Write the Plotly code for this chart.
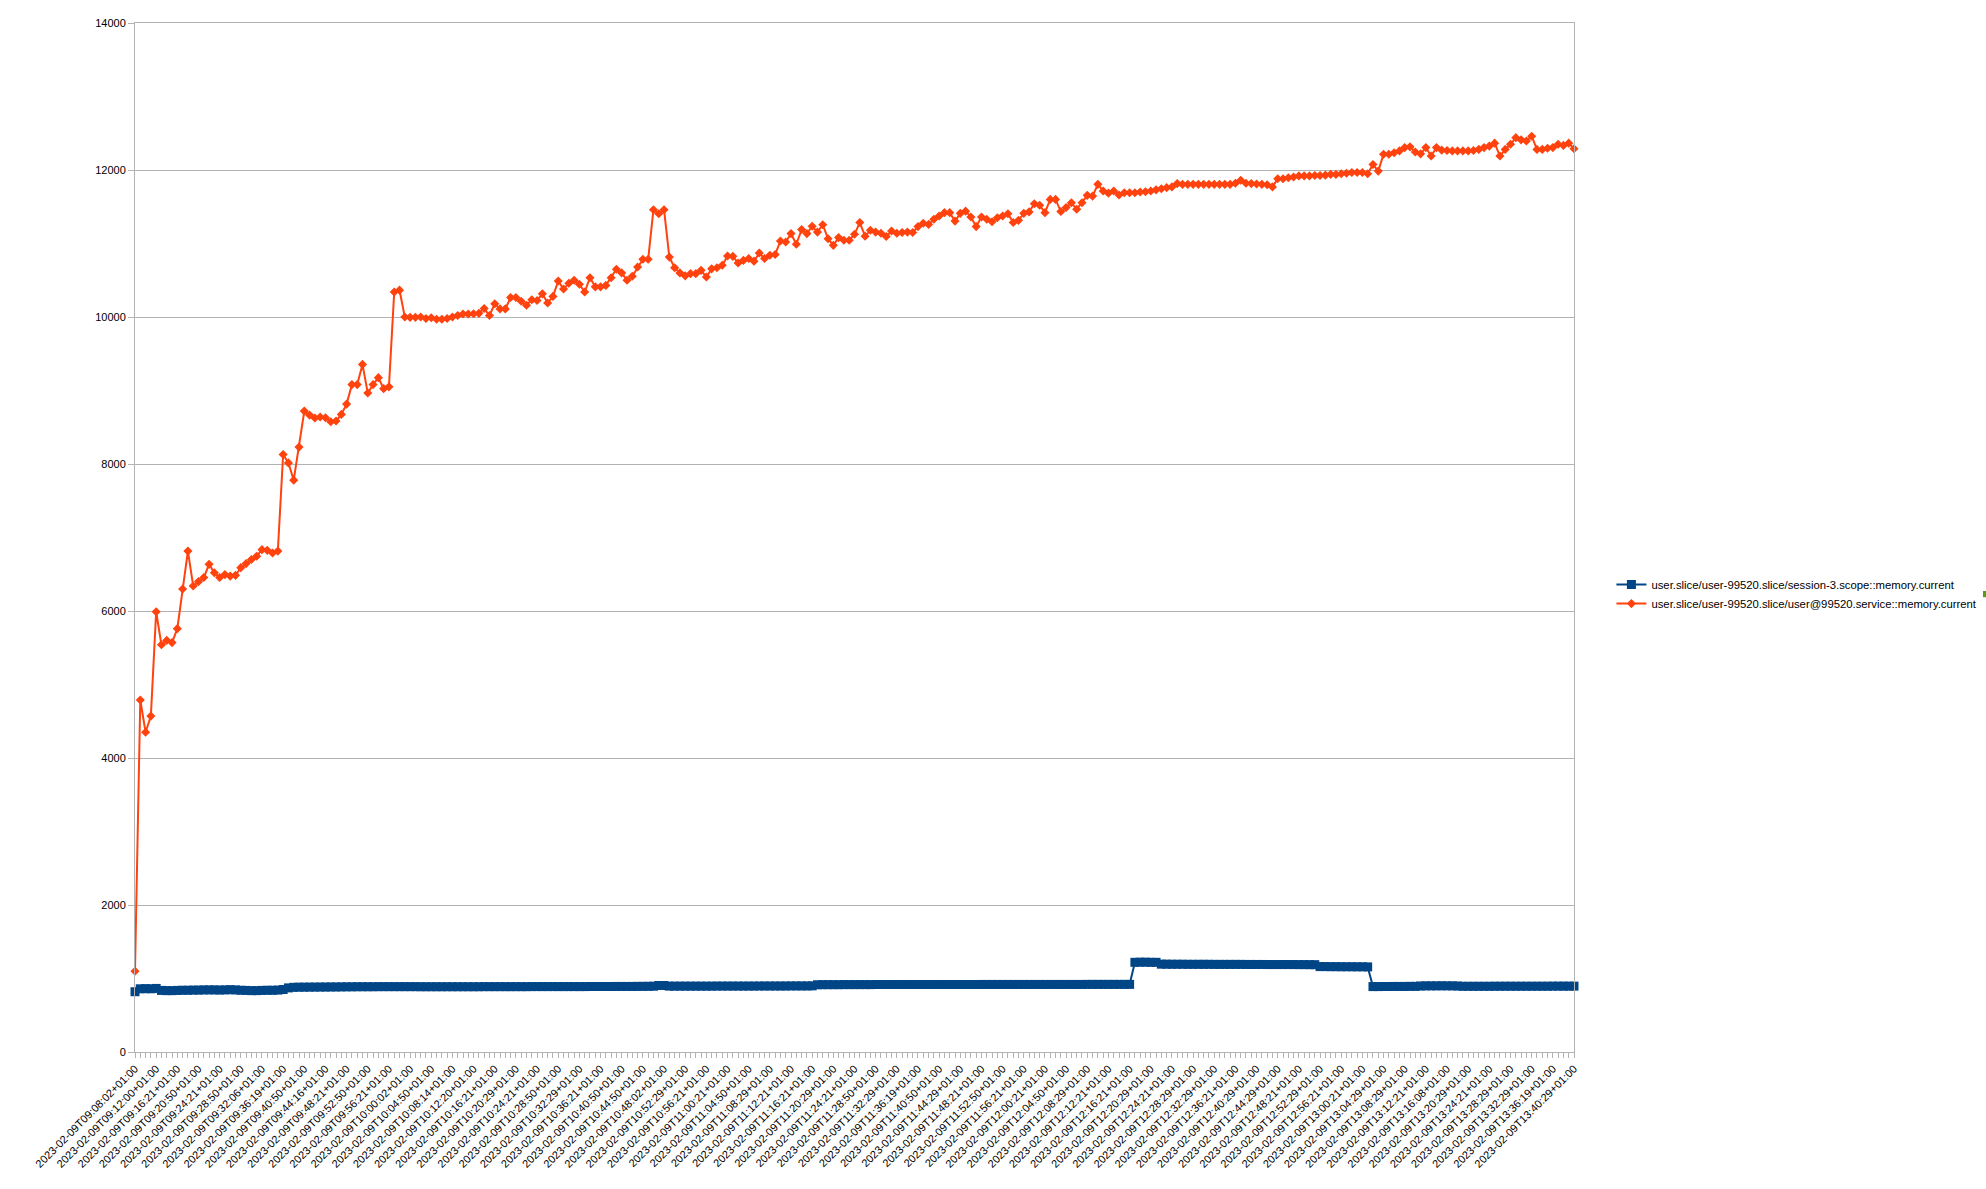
#!/usr/bin/python

import plotly.graph_objects as go

# sample times shown on the x axis (one label every 4th sample)
tick_times = [
    "09:08:02", "09:12:00", "09:16:21", "09:20:50", "09:24:21", "09:28:50", "09:32:06",
    "09:36:19", "09:40:50", "09:44:16", "09:48:21", "09:52:50", "09:56:21",
    "10:00:02", "10:04:50", "10:08:14", "10:12:20", "10:16:21", "10:20:29", "10:24:21",
    "10:28:50", "10:32:29", "10:36:21", "10:40:50", "10:44:50", "10:48:02", "10:52:29",
    "10:56:21",
    "11:00:21", "11:04:50", "11:08:29", "11:12:21", "11:16:21", "11:20:29", "11:24:21",
    "11:28:50", "11:32:29", "11:36:19", "11:40:50", "11:44:29", "11:48:21", "11:52:50",
    "11:56:21",
    "12:00:21", "12:04:50", "12:08:29", "12:12:21", "12:16:21", "12:20:29", "12:24:21",
    "12:28:29", "12:32:29", "12:36:21", "12:40:29", "12:44:29", "12:48:21", "12:52:29",
    "12:56:21",
    "13:00:21", "13:04:29", "13:08:29", "13:12:21", "13:16:08", "13:20:29", "13:24:21",
    "13:28:29", "13:32:29", "13:36:19", "13:40:29",
]
tick_labels = ["2023-02-09T" + t + "+01:00" for t in tick_times]

# session-3.scope memory.current
session_scope = [
    820, 860, 862, 860, 865, 838, 835, 835, 838, 840,
    840, 842, 842, 845, 845, 845, 843, 845, 848, 845,
    840, 838, 835, 835, 838, 840, 840, 842, 850, 872,
    880, 882, 882, 883, 883, 884, 884, 885, 885, 886,
    887, 887, 888, 888, 888, 888, 889, 889, 889, 889,
    889, 889, 889, 889, 888, 888, 888, 888, 888, 888,
    888, 888, 888, 888, 888, 888, 889, 889, 889, 889,
    889, 889, 889, 889, 889, 890, 890, 890, 890, 890,
    890, 890, 890, 890, 890, 890, 891, 891, 891, 891,
    891, 892, 892, 892, 892, 893, 893, 894, 895, 905,
    905, 896, 896, 896, 896, 896, 896, 896, 896, 896,
    897, 897, 897, 897, 897, 897, 897, 897, 898, 898,
    898, 898, 898, 898, 899, 899, 899, 899, 900, 915,
    916, 916, 916, 916, 917, 917, 917, 917, 917, 917,
    918, 918, 918, 918, 918, 918, 918, 918, 918, 918,
    918, 918, 918, 918, 918, 918, 918, 918, 918, 918,
    919, 919, 919, 919, 919, 919, 919, 919, 919, 919,
    919, 919, 919, 919, 919, 919, 919, 919, 919, 919,
    920, 920, 920, 920, 920, 920, 920, 920, 920,
    1220, 1222, 1222, 1220, 1220,
    1195, 1195, 1194, 1194, 1194, 1193, 1193, 1193, 1193, 1193,
    1192, 1192, 1192, 1192, 1192, 1192, 1191, 1191, 1191, 1191,
    1190, 1190, 1190, 1190, 1190, 1190, 1189, 1189, 1188, 1188,
    1162, 1162, 1161, 1161, 1160, 1160, 1160, 1159, 1159, 1158,
    890, 890, 891, 891, 892, 892, 892, 893, 893, 898,
    900, 900, 900, 901, 900, 900, 898, 894, 894, 894,
    894, 894, 894, 895, 895, 895, 895, 895, 895, 895,
    895, 895, 895, 895, 896, 896, 896, 896, 896,
]

# user@99520.service memory.current
user_service = [
    1100, 4790, 4350, 4570, 5990, 5540, 5600, 5570, 5760, 6300,
    6815, 6340, 6400, 6455, 6635, 6520, 6455, 6495, 6475, 6485,
    6590, 6645, 6700, 6745, 6835, 6825, 6790, 6815, 8130, 8015,
    7780, 8230, 8720, 8665, 8625, 8640, 8630, 8575, 8585, 8675,
    8815, 9080, 9080, 9355, 8965, 9080, 9175, 9025, 9050, 10340,
    10365, 10000, 9995, 9995, 10000, 9980, 9990, 9970, 9970, 9980,
    10000, 10020, 10040, 10040, 10045, 10050, 10115, 10020, 10180, 10110,
    10110, 10265, 10265, 10215, 10160, 10235, 10225, 10315, 10190, 10280,
    10490, 10380, 10460, 10500, 10445, 10340, 10535, 10410, 10410, 10430,
    10535, 10650, 10600, 10500, 10555, 10680, 10785, 10785, 11460, 11405,
    11460, 10815, 10670, 10600, 10560, 10590, 10590, 10635, 10545, 10655,
    10670, 10705, 10830, 10825, 10735, 10770, 10795, 10760, 10870, 10795,
    10840, 10850, 11035, 11020, 11135, 10990, 11190, 11135, 11235, 11155,
    11255, 11065, 10975, 11080, 11045, 11045, 11125, 11285, 11100, 11180,
    11155, 11140, 11095, 11170, 11140, 11150, 11155, 11150, 11230, 11275,
    11260, 11330, 11375, 11420, 11420, 11305, 11410, 11440, 11360, 11230,
    11360, 11330, 11295, 11350, 11375, 11405, 11285, 11315, 11410, 11430,
    11540, 11520, 11420, 11600, 11600, 11435, 11490, 11555, 11465, 11555,
    11655, 11645, 11805, 11715, 11685, 11715, 11660, 11690, 11690, 11690,
    11700, 11705, 11715, 11730, 11745, 11760, 11770, 11815, 11805, 11805,
    11805, 11805, 11805, 11805, 11805, 11805, 11805, 11805, 11820, 11860,
    11820, 11815, 11810, 11805, 11800, 11770, 11880, 11880, 11895, 11905,
    11920, 11920, 11920, 11925, 11925, 11930, 11940, 11940, 11950, 11955,
    11965, 11965, 11965, 11950, 12075, 11985, 12215, 12215, 12235, 12260,
    12305, 12315, 12245, 12220, 12305, 12190, 12305, 12270, 12265, 12260,
    12260, 12260, 12260, 12265, 12280, 12305, 12325, 12365, 12190, 12280,
    12350, 12440, 12410, 12395, 12460, 12280, 12280, 12295, 12305, 12350,
    12335, 12365, 12290,
]

n = len(user_service)
x = list(range(n))
tick_pos = list(range(0, n, 4))[:len(tick_labels)]

font = "Liberation Sans, Arial, sans-serif"
grid = "#b3b3b3"

fig = go.Figure()
fig.add_trace(go.Scatter(
    x=x, y=session_scope, mode="lines+markers",
    name="user.slice/user-99520.slice/session-3.scope::memory.current",
    line=dict(color="#004586", width=2),
    marker=dict(symbol="square", size=9, color="#004586"),
    cliponaxis=False,
))
fig.add_trace(go.Scatter(
    x=x, y=user_service, mode="lines+markers",
    name="user.slice/user-99520.slice/user@99520.service::memory.current",
    line=dict(color="#ff420e", width=2),
    marker=dict(symbol="diamond", size=7, color="#ff420e"),
    cliponaxis=False,
))

fig.update_layout(
    width=1986, height=1189,
    margin=dict(l=135, r=412, t=23, b=137, autoexpand=False),
    paper_bgcolor="white", plot_bgcolor="white",
    font=dict(family=font, size=11, color="#000000"),
    showlegend=True,
    legend=dict(x=1.026, y=0.445, xanchor="left", yanchor="middle",
                font=dict(size=11.3), itemwidth=30, bgcolor="rgba(0,0,0,0)"),
)

fig.update_xaxes(
    range=[0, n - 1], tickmode="array", tickvals=tick_pos, ticktext=tick_labels,
    tickangle=-45, tickfont=dict(size=11),
    showgrid=False, zeroline=False,
    showline=True, linecolor=grid, linewidth=1, mirror=True,
    ticks="outside", ticklen=5, tickcolor=grid,
    minor=dict(ticks="outside", dtick=1, ticklen=5, tickcolor=grid, showgrid=False),
)
fig.update_yaxes(
    range=[0, 14000], dtick=2000, tickformat="d", tickfont=dict(size=11),
    showgrid=True, gridcolor=grid, gridwidth=1, zeroline=False,
    showline=True, linecolor=grid, linewidth=1, mirror=True,
    ticks="outside", ticklen=6, tickcolor=grid,
)

# clipped legend swatch at the far right edge
fig.add_shape(type="rect", xref="paper", yref="paper",
              x0=1.2842, x1=1.2870, y0=0.442, y1=0.448,
              line=dict(width=0), fillcolor="#579d1c")

fig.write_html("out.html", config={"displayModeBar": False},
               post_script="document.body.style.margin='0';")
